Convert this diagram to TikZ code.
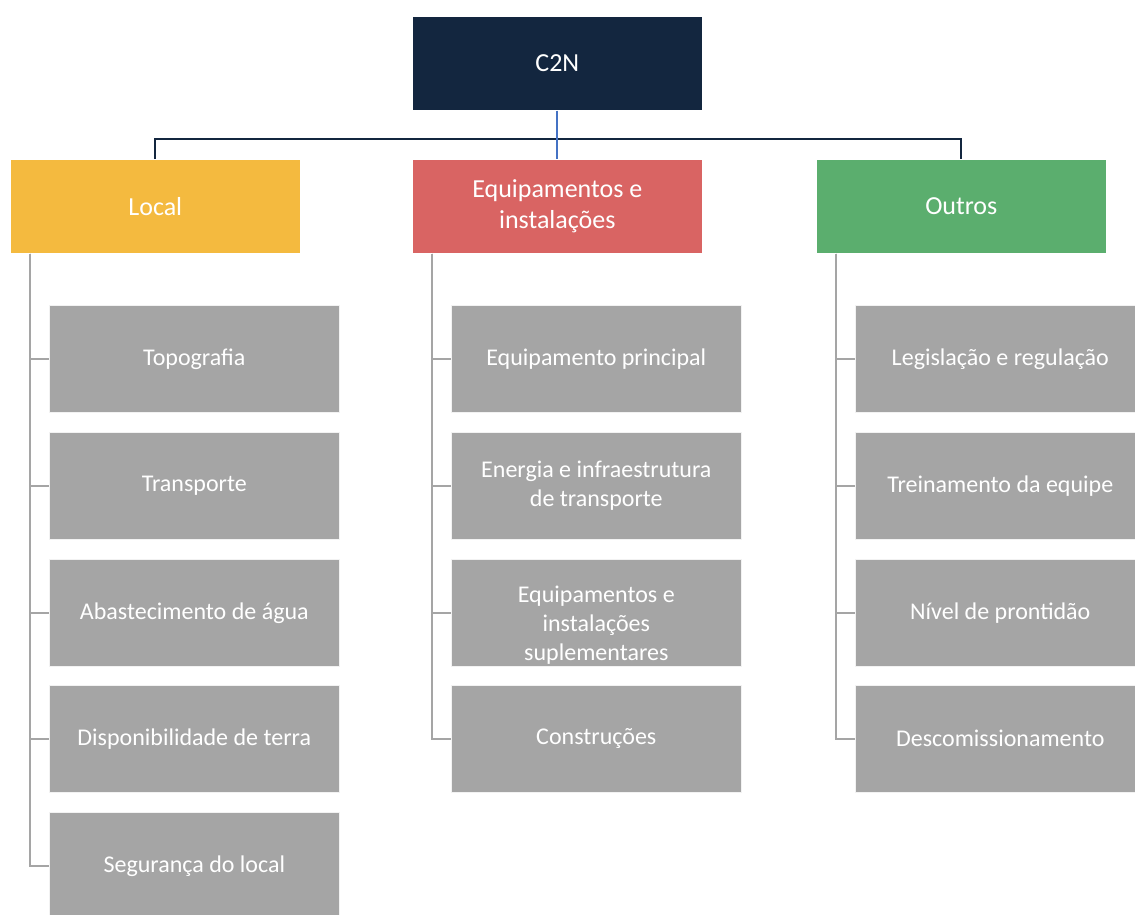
\documentclass[tikz,border=0pt]{standalone}
\usepackage{fontspec}
\setmainfont{Carlito}
\definecolor{navy}{HTML}{13263F}
\definecolor{cyellow}{HTML}{F4BA3F}
\definecolor{cred}{HTML}{D96463}
\definecolor{cgreen}{HTML}{5BAE6E}
\definecolor{cgray}{HTML}{A5A5A5}
\definecolor{cblue}{HTML}{4472C4}
\begin{document}
\begin{tikzpicture}[x=1pt,y=-1pt,
  top/.style={rectangle, anchor=north west, minimum width=290pt, minimum height=94pt, inner sep=0pt,
    text=white, align=center, font=\fontsize{26}{31.5}\selectfont, draw=white, line width=0.6pt},
  leaf/.style={rectangle, anchor=north west, fill=cgray, minimum width=290pt, minimum height=107pt, inner sep=0pt,
    text=white, align=center, font=\fontsize{24}{29}\selectfont, draw=white!85!cgray, line width=0.6pt},
  navyline/.style={draw=navy, line width=2.2pt},
  blueline/.style={draw=cblue, line width=2pt},
  grayline/.style={draw=cgray, line width=2pt}]
\clip (0,0) rectangle (1135,914);
\fill[white] (0,0) rectangle (1135,914);
\coordinate (bar) at (557,139);
\node[top, fill=navy] (c2n) at (412,16) {C2N};
\node[top, fill=cyellow] (local) at (10,159) {Local};
\node[top, fill=cred] (equip) at (412,159) {Equipamentos e\\instalações};
\node[top, fill=cgreen] (outros) at (816,159) {Outros};
\draw[navyline] (local.north) |- (bar) -| (outros.north);
\draw[blueline] (c2n.south) -- (equip.north);
% leaves
\node[leaf] (l1) at (49,305) {Topografia};
\node[leaf] (l2) at (49,432) {Transporte};
\node[leaf] (l3) at (49,559) {Abastecimento de água};
\node[leaf] (l4) at (49,685) {Disponibilidade de terra};
\node[leaf] (l5) at (49,812) {Segurança do local};
\node[leaf] (e1) at (451,305) {Equipamento principal};
\node[leaf] (e2) at (451,432) {Energia e infraestrutura\\de transporte};
\node[leaf] (e3) at (451,559) {\vphantom{p}\\Equipamentos e\\instalações\\suplementares};
\node[leaf] (e4) at (451,685) {Construções};
\node[leaf] (o1) at (855,305) {Legislação e regulação};
\node[leaf] (o2) at (855,432) {Treinamento da equipe};
\node[leaf] (o3) at (855,559) {Nível de prontidão};
\node[leaf] (o4) at (855,685) {Descomissionamento};
% gray connectors
\foreach \n in {l1,l2,l3,l4,l5}{\draw[grayline] ([xshift=20pt]local.south west) |- (\n.west);}
\foreach \n in {e1,e2,e3,e4}{\draw[grayline] ([xshift=20pt]equip.south west) |- (\n.west);}
\foreach \n in {o1,o2,o3,o4}{\draw[grayline] ([xshift=20pt]outros.south west) |- (\n.west);}
\end{tikzpicture}
\end{document}
